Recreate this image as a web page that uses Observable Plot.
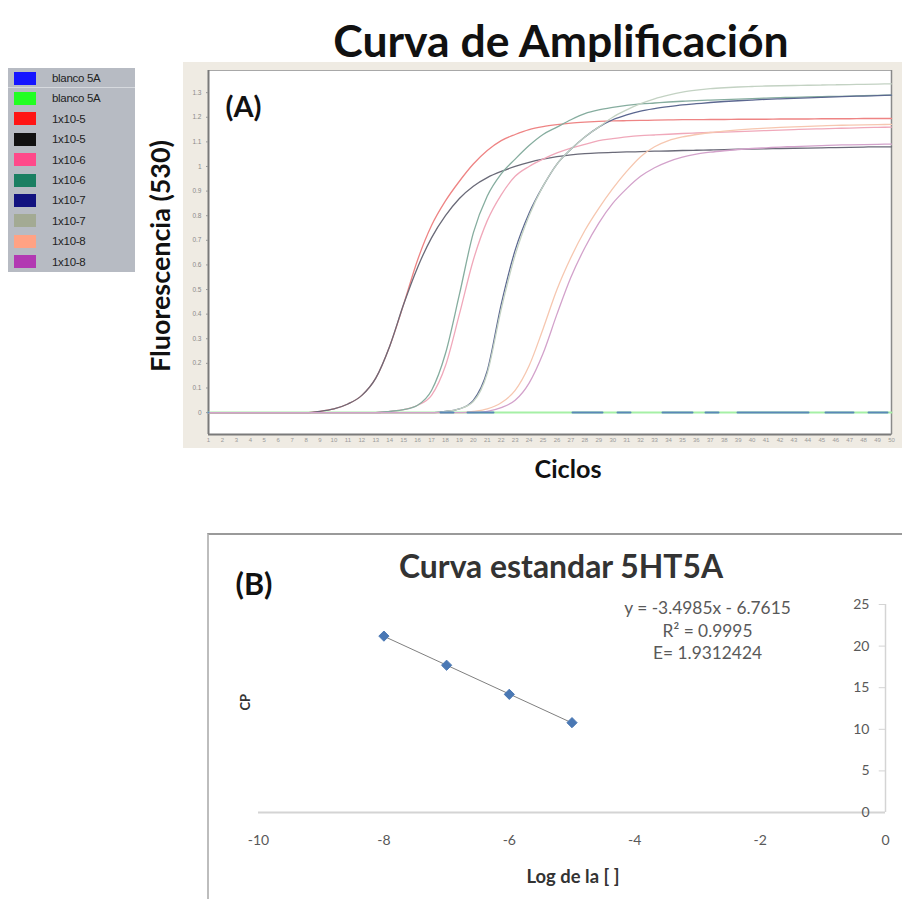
<!DOCTYPE html>
<html><head><meta charset="utf-8">
<script src="https://cdn.jsdelivr.net/npm/d3@7"></script>
<script src="https://cdn.jsdelivr.net/npm/@observablehq/plot@0.6"></script>
<style>
body{margin:0;background:#fff;width:902px;height:899px;position:relative;overflow:hidden;font-family:Lato,"Open Sans",sans-serif;}
.abs{position:absolute;}
.ctr{position:absolute;white-space:nowrap;line-height:1.2;}
</style></head><body>
<script>
// ---------- Data: amplification curves (A) ----------
const cycles = [1,2,3,4,5,6,7,8,9,10,11,12,13,14,15,16,17,18,19,20,21,22,23,24,25,26,27,28,29,30,31,32,33,34,35,36,37,38,39,40,41,42,43,44,45,46,47,48,49,50];
const yTicksA = [0,0.1,0.2,0.3,0.4,0.5,0.6,0.7,0.8,0.9,1,1.1,1.2,1.3];
const seriesLabels = ["blanco 5A","blanco 5A","1x10-5","1x10-5","1x10-6","1x10-6","1x10-7","1x10-7","1x10-8","1x10-8"];

const blancoBlue  = [0,0,0,0,0,0,0,0,0,0,0,0,0,0,0,0,0,0,0,0,0,0,0,0,0,0,0,0,0,0,0,0,0,0,0,0,0,0,0,0,0,0,0,0,0,0,0,0,0,0];
const blancoGreen = [0,0,0,0,0,0,0,0,0,0,0,0,0,0,0,0,0,0,0,0,0,0,0,0,0,0,0,0,0,0,0,0,0,0,0,0,0,0,0,0,0,0,0,0,0,0,0,0,0,0];
const e5a = [0,0,0,0,0,0,0,0,0.005,0.015,0.035,0.07,0.14,0.27,0.44,0.62,0.76,0.86,0.94,1.01,1.065,1.105,1.13,1.15,1.162,1.17,1.176,1.18,1.183,1.185,1.186,1.187,1.188,1.189,1.19,1.19,1.191,1.191,1.192,1.192,1.192,1.193,1.193,1.193,1.194,1.194,1.194,1.195,1.195,1.195];
const e5b = [0,0,0,0,0,0,0,0,0.005,0.015,0.035,0.07,0.14,0.27,0.44,0.59,0.71,0.80,0.87,0.92,0.955,0.98,1.0,1.017,1.03,1.04,1.047,1.052,1.055,1.057,1.059,1.06,1.062,1.063,1.065,1.066,1.067,1.068,1.07,1.071,1.072,1.073,1.074,1.075,1.076,1.077,1.078,1.079,1.08,1.08];
const e6a = [0,0,0,0,0,0,0,0,0,0,0,0,0,0.005,0.012,0.03,0.07,0.19,0.40,0.62,0.78,0.885,0.96,1.0,1.03,1.055,1.075,1.09,1.105,1.113,1.12,1.125,1.128,1.131,1.134,1.136,1.138,1.14,1.142,1.144,1.146,1.148,1.15,1.152,1.153,1.155,1.156,1.158,1.159,1.16];
const e6b = [0,0,0,0,0,0,0,0,0,0,0,0,0,0.005,0.012,0.03,0.09,0.24,0.48,0.73,0.88,0.97,1.03,1.085,1.13,1.16,1.19,1.215,1.23,1.24,1.248,1.254,1.258,1.262,1.265,1.268,1.27,1.272,1.274,1.276,1.278,1.28,1.281,1.283,1.284,1.285,1.286,1.288,1.289,1.29];
const e7a = [0,0,0,0,0,0,0,0,0,0,0,0,0,0,0,0,0,0.005,0.015,0.05,0.17,0.44,0.66,0.81,0.92,1.01,1.07,1.12,1.16,1.19,1.21,1.225,1.235,1.243,1.25,1.255,1.26,1.264,1.267,1.27,1.273,1.275,1.277,1.279,1.281,1.283,1.285,1.286,1.288,1.29];
const e7b = [0,0,0,0,0,0,0,0,0,0,0,0,0,0,0,0,0,0.005,0.015,0.045,0.16,0.42,0.64,0.80,0.92,1.01,1.07,1.12,1.16,1.20,1.23,1.255,1.275,1.29,1.302,1.31,1.316,1.32,1.323,1.325,1.327,1.328,1.329,1.33,1.331,1.332,1.333,1.334,1.335,1.336];
const e8a = [0,0,0,0,0,0,0,0,0,0,0,0,0,0,0,0,0,0,0,0.005,0.015,0.04,0.09,0.19,0.34,0.50,0.63,0.74,0.83,0.91,0.98,1.04,1.08,1.105,1.12,1.13,1.138,1.144,1.149,1.153,1.156,1.159,1.161,1.163,1.165,1.167,1.168,1.169,1.17,1.171];
const e8b = [0,0,0,0,0,0,0,0,0,0,0,0,0,0,0,0,0,0,0,0,0.005,0.02,0.05,0.12,0.24,0.40,0.55,0.67,0.77,0.85,0.91,0.96,0.995,1.02,1.038,1.05,1.058,1.064,1.069,1.073,1.076,1.079,1.081,1.083,1.085,1.087,1.088,1.089,1.09,1.091];

// ---------- Data: standard curve (B) ----------
const logConc = [-8,-7,-6,-5];
const cpValues = [21.2,17.7,14.2,10.8];
const xTicksB = [-10,-8,-6,-4,-2,0];
const yTicksB = [0,5,10,15,20,25];
const equationLines = ["y = -3.4985x - 6.7615","R\u00b2 = 0.9995","E= 1.9312424"];

// ---------- Styles ----------
const legendColors = ["#1414ff","#22ff22","#ff1414","#111111","#ff4a8a","#1b7f62","#12127f","#a3aa93","#ffa284","#b238b2"];
const lineColors   = ["#5a88b8","#a6f0a6","#ee8484","#6a6a78","#f0a8ba","#86ad9f","#5b6790","#c3d2c3","#f6c7b0","#d3a2cb"];
const blueDash = "0,232,13,14,26,79,30,15,13,32,30,13,13,19,71,17,28,15,19,10";
const curves = [e5a,e5b,e6a,e6b,e7a,e7b,e8a,e8b];

// text fitting helper
const ctx = document.createElement("canvas").getContext("2d");
function fit(text, weight, family, target){ ctx.font = `${weight} 100px ${family}`; return 100*target/ctx.measureText(text).width; }
const HF = "Lato";
function label(text, cx, cy, target, opts={}){
  const w = opts.weight||"bold", fam = opts.family||HF;
  const size = fit(text, w, fam, target);
  const d = document.createElement("div");
  d.className="ctr";
  d.textContent=text;
  d.style.left=cx+"px"; d.style.top=cy+"px";
  d.style.fontFamily=fam; d.style.fontWeight=w; d.style.fontSize=size+"px";
  d.style.color=opts.color||"#111";
  d.style.transform=`translate(-50%,-50%)${opts.rotate?" rotate(-90deg)":""}`;
  document.body.appendChild(d);
  return d;
}
function add(html, style){const d=document.createElement("div");d.className="abs";d.setAttribute("style",style);d.innerHTML=html;document.body.appendChild(d);return d;}

// Title and axis titles (A)
label("Curva de Amplificación", 561, 40, 457);
label("Fluorescencia (530)", 160, 256, 232, {rotate:true});
label("Ciclos", 568, 468, 67);

// Legend
const leg = add("", "left:8px;top:68px;width:127px;height:204px;background:#b7bbc3;");
seriesLabels.forEach((name,i)=>{
  const row=document.createElement("div");
  row.setAttribute("style",`position:absolute;left:0;top:${i*20.4}px;width:127px;height:20.4px;${i===0?"border-bottom:1px solid #d6d9de;box-sizing:border-box;":""}`);
  row.innerHTML=`<div style="position:absolute;left:6px;top:3.5px;width:22px;height:13px;background:${legendColors[i]};"></div><div style="position:absolute;left:44px;top:0;line-height:20.4px;font-family:'Liberation Sans',Arial,sans-serif;font-size:11.5px;color:#222;letter-spacing:-0.3px;">${name}</div>`;
  leg.appendChild(row);
});

// Chart A
const sizeA = fit("(A)","bold",HF,36);
const marksA = [
  Plot.frame({fill:"white", stroke:"#a8a8a8"}),
  Plot.ruleX([1],{stroke:"#7a7a7a",strokeWidth:2}),
  Plot.ruleY([-0.089],{stroke:"#7a7a7a",strokeWidth:2}),
  Plot.ruleX([50],{stroke:"#8a8a8a",strokeWidth:1.5}),
  Plot.axisY({ticks:yTicksA, tickSize:2, tickPadding:5, fontSize:6.5, fill:"#8a8a8a", stroke:"#999", tickFormat:d=>String(d), label:null}),
  Plot.axisX({ticks:cycles, tickSize:0, tickPadding:3, fontSize:6, fill:"#9a9a9a", tickFormat:d=>String(d), label:null}),
  Plot.line(blancoGreen,{x:(d,j)=>cycles[j], y:d=>d, stroke:lineColors[1], strokeWidth:2})
];
curves.forEach((vals,i)=>{
  marksA.push(Plot.line(vals,{x:(d,j)=>cycles[j], y:d=>d, stroke:lineColors[i+2], strokeWidth:1.3, curve:"monotone-x"}));
});
marksA.push(Plot.line(blancoBlue,{x:(d,j)=>cycles[j], y:d=>d, stroke:lineColors[0], strokeWidth:2, strokeDasharray:blueDash}));
marksA.push(Plot.text(["(A)"],{frameAnchor:"top-left", dx:17, dy:37, lineAnchor:"middle", textAnchor:"start", fontSize:sizeA, fontWeight:"bold", fill:"#111", fontFamily:HF}));

const chartA = Plot.plot({
  width:719, height:386,
  marginLeft:25, marginRight:11, marginTop:8, marginBottom:14,
  style:{background:"#efebe3", fontFamily:"'Liberation Sans',Arial,sans-serif", overflow:"visible"},
  x:{domain:[1,50]},
  y:{domain:[-0.089,1.39]},
  marks:marksA
});
add("", "left:183px;top:62px;").appendChild(chartA);

// Frame for B
add("", "left:207px;top:533px;width:700px;height:370px;border-top:2px solid #9a9a9a;border-left:2px solid #bdbdbd;box-sizing:border-box;");

// Chart B
const ptsB = logConc.map((x,i)=>({x, y:cpValues[i]}));
const sizeTitleB = fit("Curva estandar 5HT5A","bold",HF,325);
const sizeB = fit("(B)","bold",HF,37);
const sizeEq = fit(equationLines[0],"normal",HF,167);
const sizeLog = fit("Log de la [ ]","bold",HF,93);
const marksB = [
  Plot.ruleY([0],{x1:-10, x2:0, stroke:"#d4d4d4", strokeWidth:2}),
  Plot.ruleX([0],{y1:0, y2:25, stroke:"#d4d4d4", strokeWidth:1.5}),
  Plot.ruleY(yTicksB,{x1:-0.1, x2:0, stroke:"#d4d4d4", strokeWidth:1}),
  Plot.axisX({ticks:xTicksB, tickSize:0, tickPadding:23, fontSize:14, fill:"#595959", fontFamily:HF, tickFormat:d=>String(d), label:null}),
  Plot.text(yTicksB,{x:0, y:d=>d, text:d=>String(d), dx:-16, textAnchor:"end", fontSize:14, fill:"#595959", fontFamily:HF}),
  Plot.linearRegressionY(ptsB,{x:"x", y:"y", stroke:"#7f7f7f", strokeWidth:1, ci:0}),
  Plot.dot(ptsB,{x:"x", y:"y", symbol:"diamond2", r:4.6, fill:"#4a78b4", stroke:"#4a78b4", strokeWidth:1}),
  Plot.text(["Curva estandar 5HT5A"],{frameAnchor:"top", dx:-11, dy:-37, lineAnchor:"middle", fontSize:sizeTitleB, fontWeight:"bold", fill:"#333", fontFamily:HF}),
  Plot.text(["(B)"],{frameAnchor:"top-left", dx:-4.5, dy:-19, lineAnchor:"middle", textAnchor:"middle", fontSize:sizeB, fontWeight:"bold", fill:"#111", fontFamily:HF}),
  Plot.text(["Log de la [ ]"],{frameAnchor:"bottom", dx:1, dy:65, lineAnchor:"middle", fontSize:sizeLog, fontWeight:"bold", fill:"#333", fontFamily:HF}),
  Plot.text(["CP"],{frameAnchor:"left", dx:-13, dy:2, rotate:-90, lineAnchor:"middle", fontSize:13, fontWeight:"bold", fill:"#333", fontFamily:HF})
];
const eqDy = [4,27,49];
equationLines.forEach((t,k)=>{
  marksB.push(Plot.text([t],{frameAnchor:"top-left", dx:449, dy:eqDy[k], lineAnchor:"middle", textAnchor:"middle", fontSize:sizeEq, fill:"#595959", fontFamily:HF}));
});
const chartB = Plot.plot({
  width:693, height:364,
  marginLeft:49, marginRight:17, marginTop:69, marginBottom:87,
  style:{background:"transparent", fontFamily:HF, overflow:"visible"},
  x:{domain:[-10,0]},
  y:{domain:[0,25], axis:null},
  marks:marksB
});
add("", "left:209px;top:535px;").appendChild(chartB);
</script>
</body></html>
